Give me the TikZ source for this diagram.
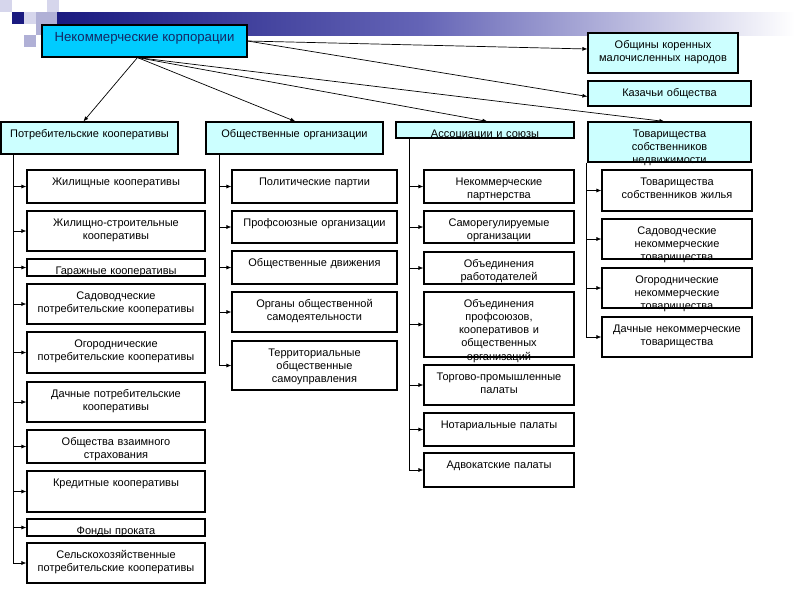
\documentclass[tikz,border=0pt]{standalone}
\usepackage{fontspec}
\setmainfont{Liberation Sans}
\usetikzlibrary{arrows.meta,fit,calc}
\definecolor{maincyan}{RGB}{0,204,255}
\definecolor{lightcyan}{RGB}{204,255,255}
\definecolor{bandnavy}{RGB}{26,26,128}
\definecolor{bandmid}{RGB}{100,100,182}
\definecolor{pixa}{RGB}{214,214,236}
\definecolor{pixb}{RGB}{176,176,214}
\definecolor{titleblue}{RGB}{20,40,100}
\newcommand\MyBox[7]{%
  \node[#2, fit={(#3,#4) (#5,#6)}] (#1) {};
  \pgfmathsetlengthmacro\mytw{(#5-#3-2)*1pt}%
  \node[txt, text width=\mytw, anchor=base] (#1t) at ({(#3+#5)/2},{#4+15}) {#7};
}
\begin{document}
\begin{tikzpicture}[x=1pt,y=-1pt,
  mainst/.style={draw, fill=maincyan, line width=1.1pt, inner sep=0pt},
  topst/.style={draw, fill=lightcyan, line width=1.1pt, inner sep=0pt},
  leafst/.style={draw, fill=white, line width=1.1pt, inner sep=0pt},
  txt/.style={inner sep=0pt, align=center, font=\fontsize{11}{13.3}\selectfont},
  ln/.style={line width=0.7pt},
  arr/.style={line width=0.7pt, -{Latex[length=5pt,width=4pt]}}]
\useasboundingbox (0,0) rectangle (800,600);
\fill[white] (0,0) rectangle (800,600);
% decorative band
\shade[left color=bandnavy, right color=bandmid] (57,12) rectangle (421,35);
\shade[left color=bandmid, right color=white] (421,12) rectangle (795,35);
\fill[pixa] (0,0) rectangle (12,12);
\fill[pixa] (47,0) rectangle (59,12);
\fill[bandnavy] (12,12) rectangle (24,24);
\fill[pixa] (24,12) rectangle (36,24);
\fill[pixb] (36,12) rectangle (57,35);
\fill[pixb] (24,35) rectangle (36,47);
% main node
\node[mainst, fit={(42,25) (247,57)}] (main) {};
\node[txt, font=\fontsize{13.2}{15}\selectfont, text=titleblue, anchor=base] (maint) at (144.5,41.5) {Некоммерческие корпорации};
% level 1
\MyBox{p1}{topst}{1}{122}{178}{154}{Потребительские кооперативы}
\MyBox{p2}{topst}{206}{122}{383}{154}{Общественные организации}
\MyBox{p3}{topst}{396}{122}{574}{138}{Ассоциации и союзы}
\MyBox{p4}{topst}{588}{122}{751}{162}{Товарищества\\собственников\\недвижимости}
\MyBox{o}{topst}{588}{33}{738}{73}{Общины коренных\\малочисленных народов}
\MyBox{k}{topst}{588}{81}{751}{106}{Казачьи общества}
% column 1
\MyBox{a1}{leafst}{27}{170}{205}{203}{Жилищные кооперативы}
\MyBox{a2}{leafst}{27}{211}{205}{251}{Жилищно-строительные\\кооперативы}
\MyBox{a3}{leafst}{27}{259}{205}{276}{Гаражные кооперативы}
\MyBox{a4}{leafst}{27}{284}{205}{324}{Садоводческие\\потребительские кооперативы}
\MyBox{a5}{leafst}{27}{332}{205}{373}{Огороднические\\потребительские кооперативы}
\MyBox{a6}{leafst}{27}{382}{205}{422}{Дачные потребительские\\кооперативы}
\MyBox{a7}{leafst}{27}{430}{205}{463}{Общества взаимного\\страхования}
\MyBox{a8}{leafst}{27}{471}{205}{512}{Кредитные кооперативы}
\MyBox{a9}{leafst}{27}{519}{205}{536}{Фонды проката}
\MyBox{a10}{leafst}{27}{543}{205}{583}{Сельскохозяйственные\\потребительские кооперативы}
% column 2
\MyBox{b1}{leafst}{232}{170}{397}{203}{Политические партии}
\MyBox{b2}{leafst}{232}{211}{397}{243}{Профсоюзные организации}
\MyBox{b3}{leafst}{232}{251}{397}{284}{Общественные движения}
\MyBox{b4}{leafst}{232}{292}{397}{332}{Органы общественной\\самодеятельности}
\MyBox{b5}{leafst}{232}{341}{397}{390}{Территориальные\\общественные\\самоуправления}
% column 3
\MyBox{c1}{leafst}{424}{170}{574}{203}{Некоммерческие\\партнерства}
\MyBox{c2}{leafst}{424}{211}{574}{243}{Саморегулируемые\\организации}
\MyBox{c3}{leafst}{424}{252}{574}{284}{Объединения\\работодателей}
\MyBox{c4}{leafst}{424}{292}{574}{357}{Объединения\\профсоюзов,\\кооперативов и\\общественных\\организаций}
\MyBox{c5}{leafst}{424}{365}{574}{405}{Торгово-промышленные\\палаты}
\MyBox{c6}{leafst}{424}{413}{574}{446}{Нотариальные палаты}
\MyBox{c7}{leafst}{424}{453}{574}{487}{Адвокатские палаты}
% column 4
\MyBox{d1}{leafst}{602}{170}{752}{211}{Товарищества\\собственников жилья}
\MyBox{d2}{leafst}{602}{219}{752}{259}{Садоводческие\\некоммерческие\\товарищества}
\MyBox{d3}{leafst}{602}{268}{752}{308}{Огороднические\\некоммерческие\\товарищества}
\MyBox{d4}{leafst}{602}{317}{752}{357}{Дачные некоммерческие\\товарищества}
% connectors from main
\coordinate (mo) at ($(main.south west)+(96,0)$);
\draw[arr] (mo) -- ($(p1.north west)+(83,0)$);
\draw[arr] (mo) -- ($(p2.north west)+(90,0)$);
\draw[arr] (mo) -- ($(p3.north west)+(92,0)$);
\draw[arr] (mo) -- ($(p4.north west)+(77,0)$);
\draw[arr] (main.east) -- ([yshift=4pt]o.west);
\draw[arr] (main.east) -- ([yshift=-3pt]k.west);
% spines
\coordinate (s1) at ($(p1.south west)+(13,0)$);
\draw[ln] (s1) -- (s1 |- a10.west);
\foreach \n in {a1,a2,a3,a4,a5,a6,a7,a8,a9,a10} \draw[arr] (s1 |- \n.west) -- (\n.west);
\coordinate (s2) at ($(p2.south west)+(14,0)$);
\draw[ln] (s2) -- (s2 |- b5.west);
\foreach \n in {b1,b2,b3,b4,b5} \draw[arr] (s2 |- \n.west) -- (\n.west);
\coordinate (s3) at ($(p3.south west)+(14,0)$);
\draw[ln] (s3) -- (s3 |- c7.west);
\foreach \n in {c1,c2,c3,c4,c5,c6,c7} \draw[arr] (s3 |- \n.west) -- (\n.west);
\coordinate (s4) at ($(p4.south west)+(-1,0)$);
\draw[ln] (s4) -- (s4 |- d4.west);
\foreach \n in {d1,d2,d3,d4} \draw[arr] (s4 |- \n.west) -- (\n.west);
\end{tikzpicture}
\end{document}
